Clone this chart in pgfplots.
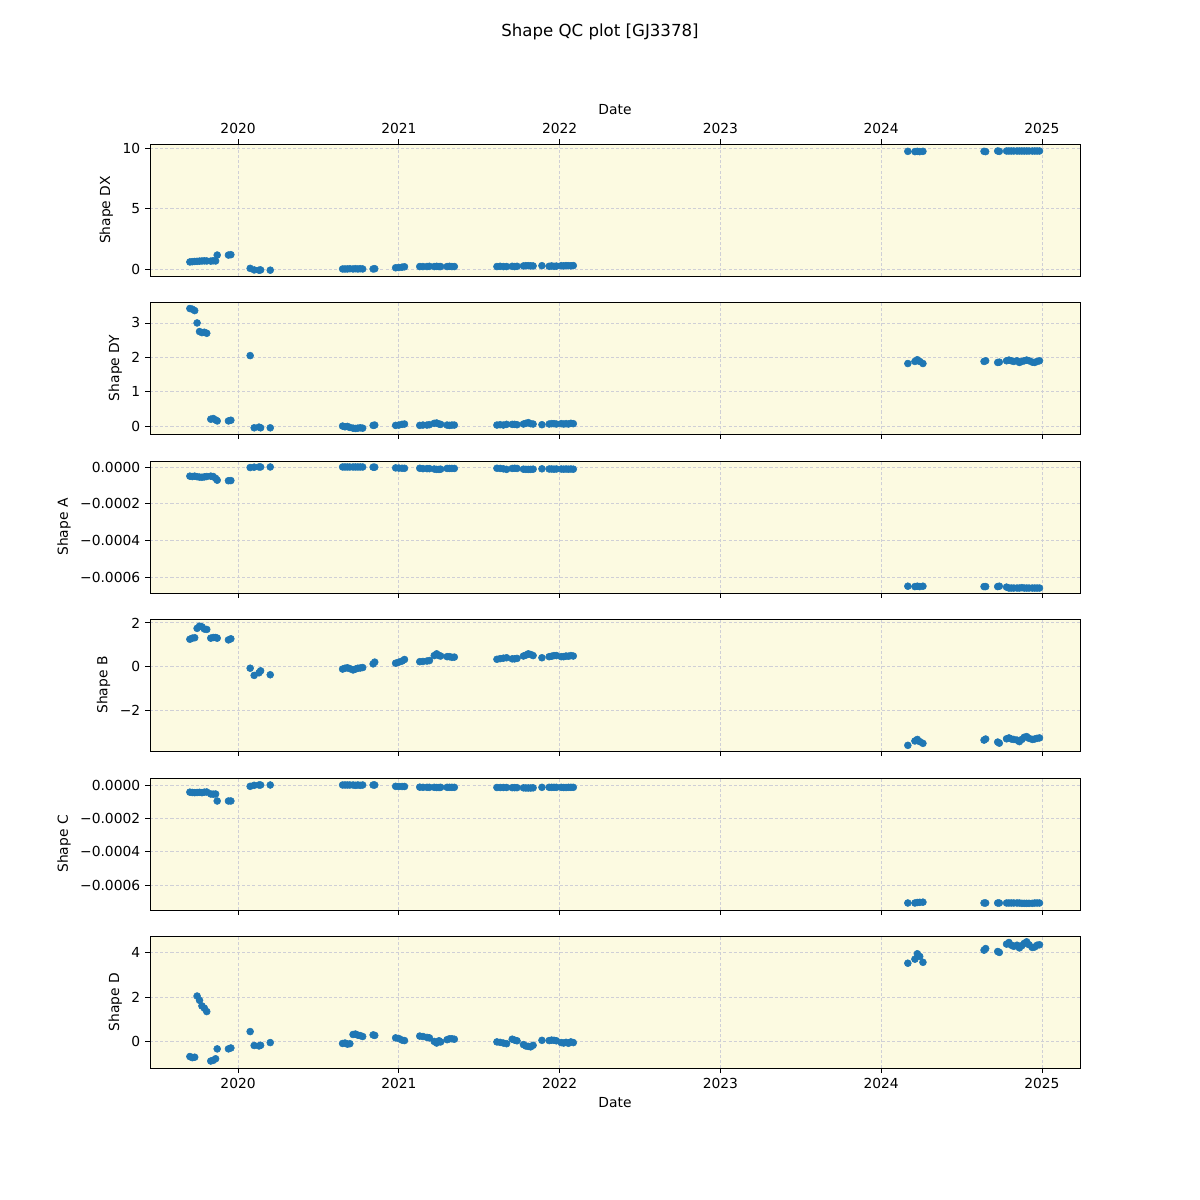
\documentclass[border=0pt]{standalone}
\usepackage{fontspec}
\setmainfont{DejaVu Sans}
\usepackage{pgfplots}
\usepackage{pgfplotstable}
\pgfplotsset{compat=1.18}

\definecolor{mplblue}{HTML}{1F77B4}
\definecolor{panelbg}{HTML}{FCFAE1}
\definecolor{gridgray}{HTML}{CFCFD6}

% t = decimal year; a, c raw; b, d in units of 1e-5
\pgfplotstableread{
t dx dy a b c d
2019.700 0.58 3.42 -5.0e-5 1.25 -4.3e-5 -0.65
2019.715 0.60 3.40 -5.2e-5 1.30 -4.5e-5 -0.70
2019.730 0.62 3.36 -5.0e-5 1.32 -4.6e-5 -0.68
2019.745 0.63 3.00 -5.3e-5 1.75 -4.5e-5 2.04
2019.760 0.65 2.75 -5.5e-5 1.85 -4.4e-5 1.85
2019.775 0.66 2.72 -5.6e-5 1.82 -4.6e-5 1.60
2019.790 0.67 2.73 -5.4e-5 1.72 -4.3e-5 1.50
2019.805 0.66 2.70 -5.2e-5 1.70 -4.2e-5 1.35
2019.830 0.65 0.20 -5.0e-5 1.30 -5.4e-5 -0.85
2019.845 0.68 0.22 -5.2e-5 1.33 -5.5e-5 -0.82
2019.860 0.66 0.18 -6.2e-5 1.33 -5.4e-5 -0.75
2019.870 1.15 0.15 -7.2e-5 1.30 -9.6e-5 -0.31
2019.940 1.15 0.15 -7.5e-5 1.22 -9.6e-5 -0.31
2019.955 1.18 0.17 -7.4e-5 1.27 -9.6e-5 -0.27
2020.075 0.05 2.05 -0.3e-5 -0.08 -0.8e-5 0.46
2020.100 -0.08 -0.05 -0.1e-5 -0.41 -0.2e-5 -0.16
2020.130 -0.10 -0.03 0.0 -0.29 0.0 -0.18
2020.140 -0.08 -0.05 0.0 -0.20 0.0 -0.15
2020.200 -0.10 -0.05 0.0 -0.38 0.0 -0.03
2020.650 0.00 0.00 0.0 -0.12 0.0 -0.07
2020.665 0.00 -0.02 0.0 -0.08 0.0 -0.05
2020.680 0.00 -0.01 0.0 -0.06 0.0 -0.10
2020.695 0.02 -0.04 0.0 -0.10 0.0 -0.08
2020.715 0.00 -0.06 0.0 -0.16 0.0 0.33
2020.730 0.02 -0.07 0.0 -0.12 -0.2e-5 0.35
2020.745 0.00 -0.06 0.0 -0.08 0.0 0.30
2020.760 0.02 -0.05 0.0 -0.07 -0.2e-5 0.28
2020.775 0.00 -0.06 0.0 -0.05 0.0 0.24
2020.840 0.00 0.02 -0.1e-5 0.12 0.0 0.31
2020.850 0.02 0.03 -0.1e-5 0.20 0.0 0.29
2020.980 0.10 0.02 -0.5e-5 0.15 -0.8e-5 0.18
2021.000 0.12 0.03 -0.6e-5 0.20 -0.9e-5 0.15
2021.020 0.15 0.05 -0.7e-5 0.25 -0.9e-5 0.08
2021.035 0.18 0.06 -0.7e-5 0.32 -0.9e-5 0.06
2021.130 0.20 0.02 -0.7e-5 0.22 -1.3e-5 0.26
2021.150 0.20 0.03 -0.9e-5 0.23 -1.4e-5 0.24
2021.175 0.20 0.03 -0.9e-5 0.25 -1.4e-5 0.20
2021.190 0.22 0.04 -0.9e-5 0.27 -1.4e-5 0.18
2021.220 0.20 0.08 -1.1e-5 0.50 -1.4e-5 0.02
2021.235 0.22 0.09 -1.3e-5 0.58 -1.5e-5 -0.05
2021.250 0.20 0.06 -1.3e-5 0.50 -1.5e-5 0.05
2021.260 0.20 0.05 -1.2e-5 0.48 -1.4e-5 0.00
2021.300 0.20 0.03 -0.8e-5 0.45 -1.4e-5 0.10
2021.315 0.22 0.02 -0.8e-5 0.45 -1.4e-5 0.14
2021.330 0.20 0.03 -0.8e-5 0.42 -1.4e-5 0.14
2021.345 0.20 0.03 -0.8e-5 0.43 -1.4e-5 0.12
2021.610 0.20 0.03 -0.7e-5 0.33 -1.5e-5 0.00
2021.630 0.22 0.04 -0.8e-5 0.36 -1.5e-5 -0.02
2021.650 0.20 0.03 -1.0e-5 0.38 -1.5e-5 -0.05
2021.670 0.20 0.05 -1.3e-5 0.40 -1.5e-5 -0.08
2021.705 0.22 0.05 -0.8e-5 0.35 -1.6e-5 0.12
2021.720 0.20 0.05 -0.7e-5 0.35 -1.6e-5 0.08
2021.735 0.22 0.04 -0.8e-5 0.37 -1.6e-5 0.05
2021.775 0.25 0.06 -1.2e-5 0.48 -1.7e-5 -0.12
2021.790 0.27 0.08 -1.3e-5 0.52 -1.8e-5 -0.18
2021.805 0.27 0.10 -1.3e-5 0.58 -1.8e-5 -0.20
2021.820 0.26 0.07 -1.3e-5 0.55 -1.8e-5 -0.22
2021.835 0.25 0.06 -1.2e-5 0.50 -1.7e-5 -0.15
2021.890 0.27 0.04 -1.0e-5 0.40 -1.4e-5 0.07
2021.935 0.22 0.06 -1.1e-5 0.45 -1.4e-5 0.06
2021.950 0.25 0.07 -1.1e-5 0.47 -1.4e-5 0.08
2021.965 0.22 0.07 -1.2e-5 0.50 -1.4e-5 0.07
2021.980 0.24 0.06 -1.1e-5 0.50 -1.4e-5 0.05
2022.010 0.27 0.07 -1.1e-5 0.45 -1.4e-5 -0.03
2022.025 0.25 0.06 -1.2e-5 0.45 -1.5e-5 -0.05
2022.040 0.28 0.07 -1.1e-5 0.48 -1.5e-5 -0.02
2022.055 0.27 0.06 -1.2e-5 0.47 -1.4e-5 -0.06
2022.070 0.26 0.08 -1.1e-5 0.50 -1.4e-5 0.00
2022.085 0.28 0.07 -1.2e-5 0.48 -1.4e-5 -0.03
2024.166 9.72 1.82 -6.50e-4 -3.62 -7.08e-4 3.50
2024.210 9.70 1.88 -6.52e-4 -3.42 -7.08e-4 3.68
2024.225 9.72 1.93 -6.50e-4 -3.35 -7.05e-4 3.92
2024.240 9.70 1.88 -6.52e-4 -3.45 -7.04e-4 3.80
2024.260 9.72 1.82 -6.50e-4 -3.53 -7.03e-4 3.54
2024.640 9.72 1.88 -6.52e-4 -3.38 -7.08e-4 4.08
2024.650 9.70 1.90 -6.52e-4 -3.33 -7.08e-4 4.15
2024.725 9.75 1.85 -6.52e-4 -3.47 -7.08e-4 4.02
2024.735 9.72 1.86 -6.50e-4 -3.52 -7.08e-4 3.98
2024.780 9.75 1.90 -6.55e-4 -3.32 -7.08e-4 4.35
2024.795 9.75 1.92 -6.60e-4 -3.28 -7.08e-4 4.42
2024.810 9.75 1.90 -6.60e-4 -3.33 -7.08e-4 4.30
2024.825 9.75 1.88 -6.60e-4 -3.35 -7.08e-4 4.25
2024.845 9.75 1.90 -6.60e-4 -3.38 -7.08e-4 4.30
2024.860 9.75 1.85 -6.60e-4 -3.45 -7.08e-4 4.18
2024.875 9.75 1.88 -6.58e-4 -3.35 -7.10e-4 4.28
2024.890 9.75 1.90 -6.60e-4 -3.25 -7.10e-4 4.38
2024.905 9.75 1.92 -6.60e-4 -3.22 -7.10e-4 4.45
2024.920 9.75 1.90 -6.60e-4 -3.30 -7.10e-4 4.32
2024.940 9.75 1.86 -6.60e-4 -3.35 -7.10e-4 4.20
2024.955 9.75 1.85 -6.60e-4 -3.33 -7.08e-4 4.22
2024.970 9.75 1.88 -6.60e-4 -3.30 -7.08e-4 4.30
2024.985 9.75 1.90 -6.60e-4 -3.28 -7.08e-4 4.32
}\obs

\pgfplotsset{
  qc/.style={
    scale only axis, width=9.30in, height=1.32in,
    anchor=south west,
    xmin=2019.452, xmax=2025.237,
    xtick={2020,2021,2022,2023,2024,2025},
    xticklabels={},
    xtick pos=left, ytick pos=left,
    axis background/.style={fill=panelbg},
    grid=major,
    major grid style={gridgray, line width=0.6pt, dash pattern=on 2.2pt off 1.5pt},
    tick align=outside, major tick length=0.049in,
    every tick/.append style={black, line width=0.6pt},
    axis line style={line width=0.65pt},
    scaled y ticks=false,
    /pgf/number format/assume math mode=true,
    tick label style={font=\fontsize{10}{12}\selectfont},
    label style={font=\fontsize{10}{12}\selectfont},
  },
  qcpts/.style={only marks, mark=*, mark size=2.5pt, mark options={draw=mplblue, fill=mplblue}},
}

\begin{document}
\begin{tikzpicture}
\path[use as bounding box] (0,0) rectangle (12in,12in);
\node[font=\fontsize{12}{14}\selectfont] at (6in,11.68in) {Shape QC plot [GJ3378]};

\begin{axis}[qc, at={(1.50in,9.24in)},
  xtick pos=right, xticklabel pos=right,
  xticklabels={2020,2021,2022,2023,2024,2025},
  xlabel={Date},
  ymin=-0.58, ymax=10.33, ytick={0,5,10},
  ylabel={Shape DX}]
  \addplot[qcpts] table[x=t, y=dx] {\obs};
\end{axis}

\begin{axis}[qc, at={(1.50in,7.66in)},
  ymin=-0.23, ymax=3.61, ytick={0,1,2,3},
  ylabel={Shape DY}]
  \addplot[qcpts] table[x=t, y=dy] {\obs};
\end{axis}

\begin{axis}[qc, at={(1.50in,6.07in)},
  ymin=-0.000687, ymax=0.0000327,
  ytick={-0.0006,-0.0004,-0.0002,0},
  yticklabels={−0.0006,−0.0004,−0.0002,0.0000},
  ylabel={Shape A}]
  \addplot[qcpts] table[x=t, y=a] {\obs};
\end{axis}

\begin{axis}[qc, at={(1.50in,4.49in)},
  ymin=-3.88, ymax=2.18, ytick={-2,0,2},
  yticklabels={−2,0,2},
  ylabel={Shape B}]
  \addplot[qcpts] table[x=t, y=b] {\obs};
  \node[anchor=south west, inner sep=1pt, font=\fontsize{10}{12}\selectfont] at (rel axis cs:0,1) {1e−5};
\end{axis}

\begin{axis}[qc, at={(1.50in,2.90in)},
  ymin=-0.00075, ymax=0.000042,
  ytick={-0.0006,-0.0004,-0.0002,0},
  yticklabels={−0.0006,−0.0004,−0.0002,0.0000},
  ylabel={Shape C}]
  \addplot[qcpts] table[x=t, y=c] {\obs};
\end{axis}

\begin{axis}[qc, at={(1.50in,1.32in)},
  xticklabels={2020,2021,2022,2023,2024,2025},
  xlabel={Date},
  ymin=-1.16, ymax=4.71, ytick={0,2,4},
  ylabel={Shape D}]
  \addplot[qcpts] table[x=t, y=d] {\obs};
  \node[anchor=south west, inner sep=1pt, font=\fontsize{10}{12}\selectfont] at (rel axis cs:0,1) {1e−5};
\end{axis}
\end{tikzpicture}
\end{document}
